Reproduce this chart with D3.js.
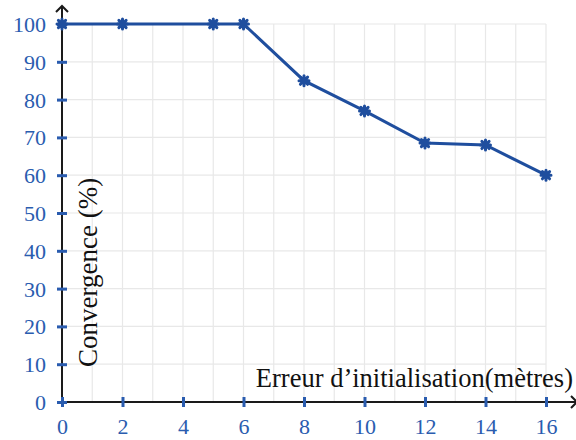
<!DOCTYPE html>
<html>
    <head>
        <style>
        html, body { margin: 0; padding: 0; background: #fff; }
        svg { display: block; }
        </style>
    </head>
    <body>
        <svg width="576" height="440"></svg>
        <script src="https://cdnjs.cloudflare.com/ajax/libs/d3/7.8.5/d3.min.js"></script>
        <script>
            // values
            let errors = [0, 2, 5, 6, 8, 10, 12, 14, 16];
            let convergence = [100, 100, 100, 100, 85, 77, 68.5, 68, 60];
            let xTicks = [0, 2, 4, 6, 8, 10, 12, 14, 16];
            let yTicks = [0, 10, 20, 30, 40, 50, 60, 70, 80, 90, 100];
            let xTitle = "Erreur d\u2019initialisation(mètres)";
            let yTitle = "Convergence (%)";

            const blue = "#2a5caf";
            const lineBlue = "#1f4e9e";
            const font = "'Liberation Serif', 'DejaVu Serif', serif";

            let svg = d3.select("svg");

            let xScale = d3.scaleLinear().domain([0, 16]).range([62, 546]);
            let yScale = d3.scaleLinear().domain([0, 100]).range([402, 24]);

            // grid
            let grid = svg.append("g").attr("stroke", "#e8e8e8").attr("stroke-width", 1.2);
            grid.selectAll(".gx")
                .data(d3.range(1, 17))
                .enter().append("line")
                .attr("x1", d => xScale(d)).attr("x2", d => xScale(d))
                .attr("y1", yScale(0)).attr("y2", yScale(100));
            grid.selectAll(".gy")
                .data(d3.range(10, 101, 10))
                .enter().append("line")
                .attr("y1", d => yScale(d)).attr("y2", d => yScale(d))
                .attr("x1", xScale(0)).attr("x2", xScale(16));

            // axis lines with arrows
            let axes = svg.append("g").attr("stroke", "#1a1a1a").attr("stroke-width", 2).attr("fill", "none");
            axes.append("line").attr("x1", xScale(0)).attr("x2", xScale(0)).attr("y1", yScale(0) + 4).attr("y2", 6);
            axes.append("path").attr("d", "M" + (xScale(0) - 6) + ",12L" + xScale(0) + ",6L" + (xScale(0) + 6) + ",12");
            axes.append("line").attr("x1", xScale(0) - 4).attr("x2", 576).attr("y1", yScale(0)).attr("y2", yScale(0));
            axes.append("path").attr("d", "M571," + (yScale(0) - 6) + "L577," + yScale(0) + "L571," + (yScale(0) + 6));

            // x axis
            let xAxis = d3.axisBottom(xScale).tickValues(xTicks).tickSize(10).tickSizeOuter(0);
            let gx = svg.append("g")
                .attr("transform", "translate(0," + yScale(0) + ")")
                .call(xAxis);
            gx.select(".domain").remove();
            gx.selectAll(".tick line").attr("y1", -5).attr("y2", 5).attr("stroke", blue).attr("stroke-width", 3);
            gx.selectAll(".tick text")
                .attr("y", 32).attr("dy", 0)
                .attr("fill", blue)
                .style("font-family", font).style("font-size", "22px");

            // y axis
            let yAxis = d3.axisLeft(yScale).tickValues(yTicks).tickSize(10).tickSizeOuter(0);
            let gy = svg.append("g")
                .attr("transform", "translate(" + xScale(0) + ",0)")
                .call(yAxis);
            gy.select(".domain").remove();
            gy.selectAll(".tick line").attr("x1", -5).attr("x2", 5).attr("stroke", blue).attr("stroke-width", 3);
            gy.selectAll(".tick text")
                .attr("x", -16).attr("dy", "0.34em")
                .attr("fill", blue)
                .style("font-family", font).style("font-size", "22px");

            // titles
            svg.append("text")
                .attr("transform", "translate(97,367) rotate(-90)")
                .attr("fill", "#111")
                .style("font-family", font).style("font-size", "27px")
                .text(yTitle);
            svg.append("text")
                .attr("x", 573).attr("y", 387)
                .attr("text-anchor", "end")
                .attr("fill", "#111")
                .style("font-family", font).style("font-size", "26.5px")
                .text(xTitle);

            // series
            let pts = errors.map((e, i) => [e, convergence[i]]);
            let line = d3.line().x(d => xScale(d[0])).y(d => yScale(d[1]));
            svg.append("path")
                .datum(pts)
                .attr("d", line)
                .attr("fill", "none")
                .attr("stroke", lineBlue)
                .attr("stroke-width", 3);

            let star = "M-5,0L5,0M0,-5L0,5M-3.6,-3.6L3.6,3.6M-3.6,3.6L3.6,-3.6";
            svg.selectAll(".marker")
                .data(pts)
                .enter().append("path")
                .attr("transform", d => "translate(" + xScale(d[0]) + "," + yScale(d[1]) + ")")
                .attr("d", star)
                .attr("stroke", lineBlue)
                .attr("stroke-width", 3)
                .attr("stroke-linecap", "round");
        </script>
    </body>
</html>
